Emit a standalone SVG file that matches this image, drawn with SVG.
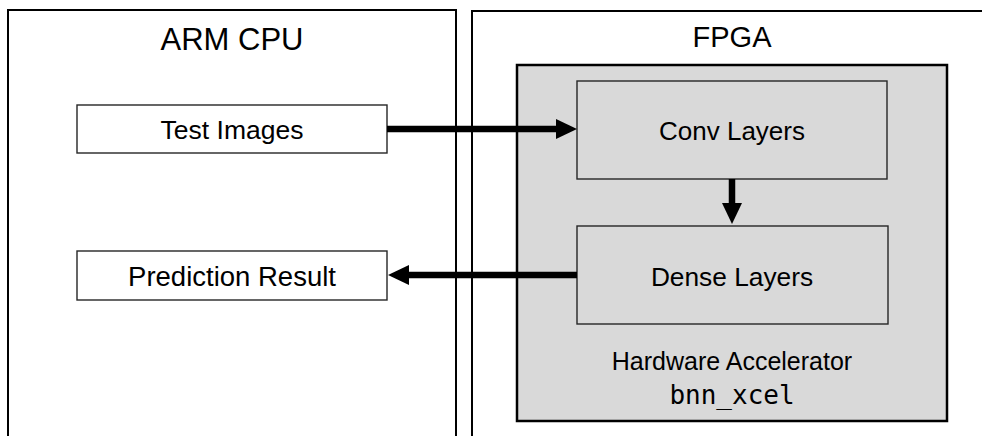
<svg xmlns="http://www.w3.org/2000/svg" width="982" height="436" viewBox="0 0 982 436">
<style>
  .region { fill: #ffffff; stroke: #000000; stroke-width: 2; }
  .accel { fill: #d9d9d9; stroke: #000000; stroke-width: 2.5; }
  .box { fill: #ffffff; stroke: #262626; stroke-width: 1.4; }
  .gbox { fill: #d9d9d9; stroke: #262626; stroke-width: 1.4; }
  .lbl { font-family: "Liberation Sans", Arial, sans-serif; fill: #000000; text-anchor: middle; }
  .mono { font-family: "DejaVu Sans Mono", "Liberation Mono", monospace; fill: #000000; text-anchor: middle; }
  .conn { fill: none; stroke: #000000; stroke-width: 6.5; }
</style>
<defs>
  <marker id="head" markerUnits="userSpaceOnUse" markerWidth="21" markerHeight="21" refX="1" refY="10" orient="auto" viewBox="0 0 21 21">
    <path d="M0,0 L21,10 L0,20 Z" fill="#000000"/>
  </marker>
</defs>
<rect width="982" height="436" fill="#ffffff"/>

<g id="arm-cpu">
  <rect class="region" x="8" y="10" width="448" height="440"/>
  <text class="lbl" x="232" y="50" font-size="31">ARM CPU</text>
</g>

<g id="fpga">
  <rect class="region" x="472" y="11" width="530" height="440"/>
  <text class="lbl" x="732" y="47" font-size="29">FPGA</text>
</g>

<g id="hardware-accelerator">
  <rect class="accel" x="517" y="65" width="430" height="356"/>
  <text class="lbl" x="732" y="370" font-size="25">Hardware Accelerator</text>
  <text class="mono" x="732" y="404" font-size="26">bnn_xcel</text>
</g>

<g id="test-images">
  <rect class="box" x="77" y="105" width="310" height="48"/>
  <text class="lbl" x="232" y="139" font-size="26.5">Test Images</text>
</g>

<g id="prediction-result">
  <rect class="box" x="77" y="251" width="310" height="49"/>
  <text class="lbl" x="232" y="286" font-size="27.5">Prediction Result</text>
</g>

<g id="conv-layers">
  <rect class="gbox" x="577" y="81" width="310" height="98"/>
  <text class="lbl" x="732" y="140" font-size="26">Conv Layers</text>
</g>

<g id="dense-layers">
  <rect class="gbox" x="577" y="226" width="311" height="98"/>
  <text class="lbl" x="732" y="286" font-size="26.3">Dense Layers</text>
</g>

<g id="connectors">
  <path class="conn" d="M387,129 L557,129" marker-end="url(#head)"/>
  <path class="conn" d="M732,179 L732,204" marker-end="url(#head)"/>
  <path class="conn" d="M577,275 L408,275" marker-end="url(#head)"/>
</g>
</svg>
